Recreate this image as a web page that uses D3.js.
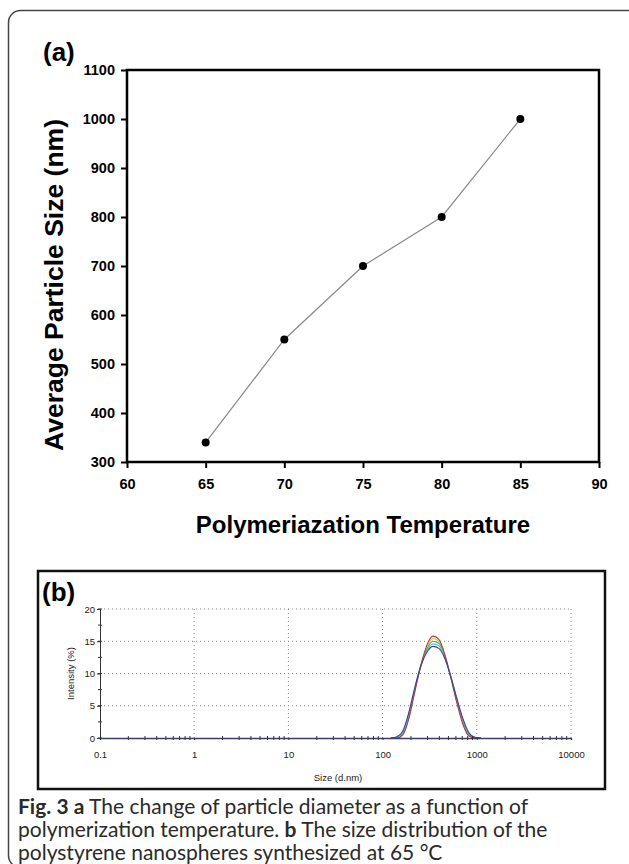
<!DOCTYPE html>
<html>
<head>
<meta charset="utf-8">
<script src="https://cdn.jsdelivr.net/npm/d3@7"></script>
<style>
  body { margin: 0; background: #fff; }
  svg { display: block; }
  .caption { font-family: Lato, "Open Sans", sans-serif; font-size: 21px; fill: #2a2a2a; }
</style>
</head>
<body>
<svg id="fig" width="629" height="864"></svg>
<script>
// panel (a): particle size vs temperature
const temps = [65, 70, 75, 80, 85];
const sizes = [340, 550, 700, 800, 1000];
const tempTicks = [60, 65, 70, 75, 80, 85, 90];
const sizeTicks = [300, 400, 500, 600, 700, 800, 900, 1000, 1100];

// panel (b): DLS intensity distribution, several runs
const binSizes = [122.4, 141.8, 164.2, 190.1, 220.2, 255.0, 295.3, 342.0, 396.1, 458.7, 531.2, 615.1, 712.4, 825.0, 955.4, 1106];
const runRed    = [0, 0,   0.5, 3.0, 7.2, 11.3, 14.4, 15.8, 15.3, 12.9, 9.3, 5.4, 2.1, 0.3, 0,   0];
const runYellow = [0, 0,   0.6, 3.2, 7.4, 11.3, 14.1, 15.4, 15.0, 12.8, 9.4, 5.7, 2.4, 0.4, 0,   0];
const runGreen  = [0, 0,   0.7, 3.4, 7.5, 11.2, 13.8, 15.0, 14.7, 12.7, 9.5, 5.9, 2.6, 0.5, 0,   0];
const runCyan   = [0, 0.1, 0.9, 3.7, 7.7, 11.2, 13.5, 14.6, 14.3, 12.5, 9.5, 6.0, 2.8, 0.6, 0,   0];
const runBlue   = [0, 0.2, 1.1, 4.0, 7.9, 11.2, 13.3, 14.2, 13.9, 12.3, 9.4, 6.1, 3.0, 0.8, 0.1, 0];
const runs = [
  { values: runYellow, color: '#d6c65a' },
  { values: runGreen, color: '#5aa84a' },
  { values: runCyan, color: '#5cc8c8' },
  { values: runRed, color: '#b04040' },
  { values: runBlue, color: '#3a3f9a' }
];
const intensityTicks = [0, 5, 10, 15, 20];
const decadeTicks = [0.1, 1, 10, 100, 1000, 10000];

const svg = d3.select('#fig');

// outer rounded frame (runs off the right and bottom edges)
svg.append('rect')
  .attr('x', 8.5).attr('y', 10.5)
  .attr('width', 640).attr('height', 857)
  .attr('rx', 12)
  .attr('fill', 'none').attr('stroke', '#444').attr('stroke-width', 1.5);

// ---------- panel (a) ----------
const a = { left: 127, right: 599, top: 70, bottom: 462 };
const xA = d3.scaleLinear().domain([60, 90]).range([a.left, a.right]);
const yA = d3.scaleLinear().domain([300, 1100]).range([a.bottom, a.top]);
const boldFont = '"Liberation Sans", Arial, sans-serif';

const gA = svg.append('g');

gA.append('text')
  .attr('x', 43).attr('y', 61)
  .attr('font-family', boldFont).attr('font-weight', 'bold').attr('font-size', 26)
  .text('(a)');

const axisYA = gA.append('g')
  .attr('transform', `translate(${a.left},0)`)
  .call(d3.axisLeft(yA).tickValues(sizeTicks).tickFormat(d3.format('d'))
    .tickSize(6).tickSizeOuter(0).tickPadding(6));
const axisXA = gA.append('g')
  .attr('transform', `translate(0,${a.bottom})`)
  .call(d3.axisBottom(xA).tickValues(tempTicks).tickFormat(d3.format('d'))
    .tickSize(6).tickSizeOuter(0).tickPadding(11));

[axisYA, axisXA].forEach(ax => {
  ax.select('.domain').remove();
  ax.selectAll('line').attr('stroke', '#000').attr('stroke-width', 2);
  ax.selectAll('text')
    .attr('font-family', boldFont).attr('font-weight', 'bold')
    .attr('font-size', 14.5).attr('fill', '#000');
});

gA.append('rect')
  .attr('x', a.left).attr('y', a.top)
  .attr('width', a.right - a.left).attr('height', a.bottom - a.top)
  .attr('fill', 'none').attr('stroke', '#000').attr('stroke-width', 2.5);

gA.append('path')
  .datum(temps.map((t, i) => [t, sizes[i]]))
  .attr('fill', 'none').attr('stroke', '#888').attr('stroke-width', 1.2)
  .attr('d', d3.line().x(d => xA(d[0])).y(d => yA(d[1])));

gA.selectAll('circle.pt')
  .data(temps.map((t, i) => [t, sizes[i]]))
  .join('circle')
  .attr('class', 'pt')
  .attr('cx', d => xA(d[0])).attr('cy', d => yA(d[1]))
  .attr('r', 4).attr('fill', '#000');

gA.append('text')
  .attr('transform', `translate(63,${(a.top + a.bottom) / 2 + 19}) rotate(-90)`)
  .attr('text-anchor', 'middle')
  .attr('font-family', boldFont).attr('font-weight', 'bold').attr('font-size', 25)
  .attr('textLength', 332).attr('lengthAdjust', 'spacingAndGlyphs')
  .text('Average Particle Size (nm)');

gA.append('text')
  .attr('x', 363).attr('y', 533)
  .attr('text-anchor', 'middle')
  .attr('font-family', boldFont).attr('font-weight', 'bold').attr('font-size', 24)
  .text('Polymeriazation Temperature');

// ---------- panel (b) ----------
const gB = svg.append('g');
gB.append('rect')
  .attr('x', 38).attr('y', 571)
  .attr('width', 567).attr('height', 218)
  .attr('fill', 'none').attr('stroke', '#111').attr('stroke-width', 2.5);

gB.append('text')
  .attr('x', 42).attr('y', 601)
  .attr('font-family', boldFont).attr('font-weight', 'bold').attr('font-size', 26)
  .text('(b)');

const b = { left: 100, right: 571, top: 609, bottom: 738 };
const xB = d3.scaleLog().domain([0.1, 10000]).range([b.left, b.right]);
const yB = d3.scaleLinear().domain([0, 20]).range([b.bottom, b.top]);
const thinFont = '"Liberation Sans", Arial, sans-serif';

// dotted grid
gB.append('g')
  .selectAll('line')
  .data(intensityTicks.filter(v => v > 0))
  .join('line')
  .attr('x1', b.left).attr('x2', b.right)
  .attr('y1', d => yB(d)).attr('y2', d => yB(d))
  .attr('stroke', '#888').attr('stroke-width', 1).attr('stroke-dasharray', '1,3');
gB.append('g')
  .selectAll('line')
  .data(decadeTicks.filter(v => v > 0.1))
  .join('line')
  .attr('x1', d => xB(d)).attr('x2', d => xB(d))
  .attr('y1', b.top).attr('y2', b.bottom)
  .attr('stroke', '#888').attr('stroke-width', 1).attr('stroke-dasharray', '1,3');

// distribution curves
const curveLine = d3.line()
  .x((d, i) => xB(binSizes[i]))
  .y(d => yB(d))
  .curve(d3.curveMonotoneX);
gB.append('g')
  .selectAll('path')
  .data(runs)
  .join('path')
  .attr('fill', 'none')
  .attr('stroke', d => d.color)
  .attr('stroke-width', 1.1)
  .attr('d', d => curveLine(d.values));

// y axis with minor ticks
const yMinor = d3.range(0, 20.01, 2.5);
const axisYB = gB.append('g')
  .attr('transform', `translate(${b.left},0)`)
  .call(d3.axisLeft(yB).tickValues(intensityTicks).tickSize(3).tickPadding(2));
axisYB.select('.domain').attr('stroke', '#333');
axisYB.selectAll('text').attr('font-family', thinFont).attr('font-size', 9.5).attr('fill', '#222');
axisYB.selectAll('line').attr('stroke', '#333');
gB.append('g')
  .selectAll('line')
  .data(yMinor)
  .join('line')
  .attr('x1', b.left - 2).attr('x2', b.left + 2)
  .attr('y1', d => yB(d)).attr('y2', d => yB(d))
  .attr('stroke', '#333');

// x axis: baseline, log minor ticks
const xMinor = [];
decadeTicks.slice(0, -1).forEach(dec => {
  for (let k = 2; k <= 9; k++) xMinor.push(dec * k);
});
const axisXB = gB.append('g')
  .attr('transform', `translate(0,${b.bottom})`)
  .call(d3.axisBottom(xB).tickValues(decadeTicks).tickFormat(d3.format('~g')).tickSize(2).tickPadding(11));
axisXB.select('.domain').attr('stroke', '#3a3f6a').attr('stroke-width', 1.3);
axisXB.selectAll('text').attr('font-family', thinFont).attr('font-size', 9.5).attr('fill', '#222');
axisXB.selectAll('line').attr('stroke', '#333');
gB.append('g')
  .selectAll('line')
  .data(xMinor)
  .join('line')
  .attr('x1', d => xB(d)).attr('x2', d => xB(d))
  .attr('y1', b.bottom - 2).attr('y2', b.bottom + 2)
  .attr('stroke', '#333');

gB.append('text')
  .attr('transform', `translate(74,${(b.top + b.bottom) / 2}) rotate(-90)`)
  .attr('text-anchor', 'middle')
  .attr('font-family', thinFont).attr('font-size', 9.5).attr('fill', '#222')
  .text('Intensity (%)');

gB.append('text')
  .attr('x', 338).attr('y', 781)
  .attr('text-anchor', 'middle')
  .attr('font-family', thinFont).attr('font-size', 9.5).attr('fill', '#222')
  .text('Size (d.nm)');

// ---------- caption ----------
const capLines = [
  [['Fig. 3 a', true], [' The change of particle diameter as a function of', false]],
  [['polymerization temperature. ', false], ['b', true], [' The size distribution of the', false]],
  [['polystyrene nanospheres synthesized at 65 °C', false]]
];
capLines.forEach((parts, i) => {
  const line = svg.append('text').attr('class', 'caption')
    .attr('x', 18).attr('y', 814 + i * 23);
  parts.forEach(([txt, bold]) => {
    line.append('tspan').text(txt).attr('font-weight', bold ? 'bold' : null);
  });
});
</script>
</body>
</html>
